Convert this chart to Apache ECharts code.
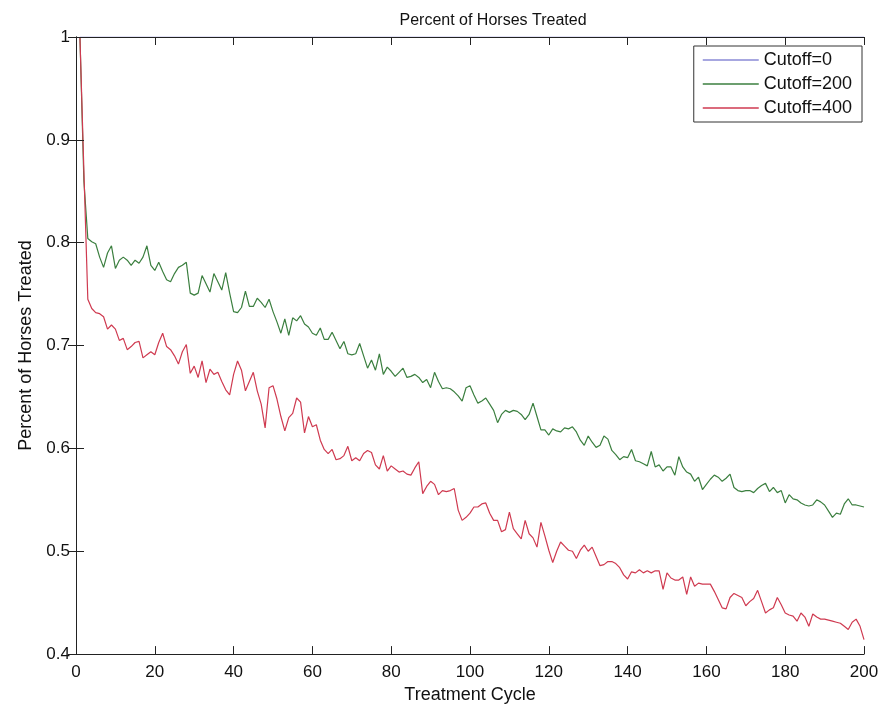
<!DOCTYPE html>
<html>
<head>
<meta charset="utf-8">
<script src="https://cdn.jsdelivr.net/npm/echarts@6/dist/echarts.min.js"></script>
<style>
  html, body { margin: 0; padding: 0; background: #fff; }
  #chart { width: 893px; height: 709px; }
</style>
</head>
<body>
<div id="chart"></div>
<script>
const seriesNames = ['Cutoff=0', 'Cutoff=200', 'Cutoff=400'];
const xTicks = [0, 20, 40, 60, 80, 100, 120, 140, 160, 180, 200];
const yTicks = [0.4, 0.5, 0.6, 0.7, 0.8, 0.9, 1];

const cutoff0 = [
  1,1,1,1,1,1,1,1,1,1,1,1,1,1,1,1,1,1,1,1,
  1,1,1,1,1,1,1,1,1,1,1,1,1,1,1,1,1,1,1,1,
  1,1,1,1,1,1,1,1,1,1,1,1,1,1,1,1,1,1,1,1,
  1,1,1,1,1,1,1,1,1,1,1,1,1,1,1,1,1,1,1,1,
  1,1,1,1,1,1,1,1,1,1,1,1,1,1,1,1,1,1,1,1,
  1,1,1,1,1,1,1,1,1,1,1,1,1,1,1,1,1,1,1,1,
  1,1,1,1,1,1,1,1,1,1,1,1,1,1,1,1,1,1,1,1,
  1,1,1,1,1,1,1,1,1,1,1,1,1,1,1,1,1,1,1,1,
  1,1,1,1,1,1,1,1,1,1,1,1,1,1,1,1,1,1,1,1,
  1,1,1,1,1,1,1,1,1,1,1,1,1,1,1,1,1,1,1,1
];

const cutoff200 = [
  1.000,0.860,0.804,0.801,0.799,0.786,0.776,0.790,0.797,0.775,
  0.783,0.786,0.783,0.778,0.783,0.780,0.786,0.797,0.778,0.773,
  0.781,0.772,0.764,0.762,0.770,0.776,0.778,0.781,0.751,0.749,
  0.751,0.768,0.760,0.752,0.770,0.762,0.754,0.771,0.751,0.733,
  0.732,0.737,0.753,0.738,0.738,0.746,0.742,0.737,0.745,0.733,
  0.723,0.712,0.726,0.710,0.727,0.724,0.729,0.721,0.718,0.712,
  0.710,0.717,0.706,0.706,0.713,0.705,0.697,0.704,0.692,0.691,
  0.692,0.702,0.690,0.678,0.686,0.676,0.692,0.672,0.679,0.675,
  0.670,0.674,0.678,0.669,0.670,0.672,0.669,0.664,0.667,0.659,
  0.674,0.665,0.658,0.659,0.658,0.655,0.651,0.646,0.659,0.661,
  0.652,0.644,0.646,0.649,0.643,0.637,0.625,0.633,0.637,0.635,
  0.637,0.636,0.633,0.628,0.633,0.644,0.631,0.618,0.618,0.613,
  0.619,0.617,0.616,0.620,0.619,0.621,0.616,0.608,0.603,0.612,
  0.606,0.601,0.603,0.612,0.609,0.598,0.594,0.589,0.592,0.591,
  0.599,0.588,0.587,0.585,0.583,0.597,0.582,0.584,0.578,0.582,
  0.582,0.574,0.592,0.582,0.577,0.575,0.568,0.572,0.560,0.565,
  0.570,0.574,0.572,0.568,0.571,0.575,0.562,0.559,0.558,0.559,
  0.559,0.557,0.561,0.564,0.566,0.558,0.562,0.557,0.559,0.547,
  0.555,0.551,0.550,0.547,0.545,0.544,0.545,0.550,0.548,0.545,
  0.539,0.533,0.537,0.536,0.546,0.551,0.545,0.545,0.544,0.543
];

const cutoff400 = [
  1.000,0.870,0.745,0.736,0.732,0.731,0.728,0.716,0.720,0.716,
  0.705,0.707,0.696,0.699,0.703,0.704,0.688,0.691,0.694,0.691,
  0.703,0.712,0.699,0.696,0.690,0.682,0.694,0.701,0.673,0.680,
  0.669,0.685,0.664,0.677,0.672,0.674,0.665,0.657,0.652,0.672,
  0.685,0.676,0.656,0.665,0.674,0.656,0.643,0.620,0.659,0.661,
  0.648,0.631,0.617,0.630,0.634,0.649,0.645,0.615,0.631,0.621,
  0.623,0.608,0.599,0.595,0.599,0.589,0.590,0.593,0.602,0.588,
  0.591,0.588,0.595,0.598,0.596,0.584,0.580,0.593,0.578,0.583,
  0.580,0.577,0.578,0.575,0.574,0.581,0.587,0.556,0.563,0.568,
  0.565,0.555,0.559,0.558,0.559,0.561,0.540,0.530,0.533,0.537,
  0.543,0.543,0.546,0.547,0.537,0.530,0.530,0.519,0.521,0.538,
  0.522,0.517,0.512,0.530,0.517,0.513,0.504,0.528,0.515,0.501,
  0.489,0.500,0.509,0.505,0.501,0.500,0.493,0.501,0.506,0.500,
  0.504,0.495,0.486,0.487,0.490,0.490,0.488,0.484,0.477,0.473,
  0.480,0.479,0.482,0.479,0.481,0.479,0.481,0.481,0.463,0.479,
  0.474,0.472,0.472,0.475,0.458,0.475,0.466,0.469,0.468,0.468,
  0.468,0.461,0.453,0.445,0.444,0.455,0.459,0.457,0.455,0.447,
  0.451,0.454,0.462,0.451,0.440,0.443,0.445,0.455,0.448,0.440,
  0.438,0.437,0.432,0.440,0.436,0.427,0.439,0.436,0.434,0.434,
  0.433,0.432,0.431,0.430,0.427,0.424,0.431,0.434,0.427,0.414
];

// treatment cycles 1..200 (x domain)
const cycles = cutoff200.map((_, i) => i + 1);

const colors = ['#8a8ad6', '#3b7f3f', '#cf3a50'];
const FONT = '"Liberation Sans", Arial, Helvetica, sans-serif';

function pairs(vals) { return vals.map((v, i) => [cycles[i], v]); }

const chart = echarts.init(document.getElementById('chart'), null, { renderer: 'canvas' });

const axisCommon = {
  type: 'value',
  axisLine: { show: true, lineStyle: { color: '#222', width: 1 } },
  axisTick: { show: true, inside: true, length: 8, lineStyle: { color: '#222', width: 1 } },
  splitLine: { show: false }
};

chart.setOption({
  animation: false,
  backgroundColor: '#fff',
  title: {
    text: 'Percent of Horses Treated',
    left: 488,
    textAlign: 'center',
    top: 8,
    textStyle: { fontFamily: FONT, fontSize: 16, fontWeight: 'normal', color: '#111' }
  },
  legend: {
    data: seriesNames,
    orient: 'vertical',
    right: 31,
    top: 46,
    padding: [5, 10, 5, 9],
    icon: 'rect',
    itemWidth: 56,
    itemHeight: 1.4,
    itemGap: 6,
    borderColor: '#333',
    borderWidth: 1,
    backgroundColor: '#fff',
    textStyle: { fontFamily: FONT, fontSize: 18, color: '#111', lineHeight: 18 }
  },
  grid: { left: 76, right: 29, top: 37, bottom: 51, containLabel: false },
  xAxis: [
    Object.assign({}, axisCommon, {
      position: 'bottom',
      min: xTicks[0], max: xTicks[xTicks.length - 1], interval: 20,
      z: 5,
      axisLabel: { show: true, margin: 10, fontFamily: FONT, fontSize: 17, color: '#111' },
      name: 'Treatment Cycle',
      nameLocation: 'middle',
      nameGap: 26,
      nameTextStyle: { fontFamily: FONT, fontSize: 18, color: '#111' }
    }),
    Object.assign({}, axisCommon, {
      position: 'top',
      min: xTicks[0], max: xTicks[xTicks.length - 1], interval: 20,
      z: 5,
      axisLabel: { show: false }
    })
  ],
  yAxis: [
    Object.assign({}, axisCommon, {
      position: 'left',
      min: yTicks[0], max: yTicks[yTicks.length - 1], interval: 0.1,
      z: 5,
      axisLabel: {
        show: true, margin: 6, fontFamily: FONT, fontSize: 17, color: '#111',
        formatter: v => String(Math.round(v * 10) / 10)
      },
      name: 'Percent of Horses Treated',
      nameLocation: 'middle',
      nameRotate: 90,
      nameGap: 39,
      nameTextStyle: { fontFamily: FONT, fontSize: 18, color: '#111' }
    }),
    Object.assign({}, axisCommon, {
      position: 'right',
      min: yTicks[0], max: yTicks[yTicks.length - 1], interval: 0.1,
      z: 5,
      axisLabel: { show: false }
    })
  ],
  series: [
    { name: seriesNames[0], type: 'line', data: pairs(cutoff0), symbol: 'none', z: 1,
      lineStyle: { color: colors[0], width: 1.2 }, itemStyle: { color: colors[0] } },
    { name: seriesNames[1], type: 'line', data: pairs(cutoff200), symbol: 'none', z: 2,
      lineStyle: { color: colors[1], width: 1.2 }, itemStyle: { color: colors[1] } },
    { name: seriesNames[2], type: 'line', data: pairs(cutoff400), symbol: 'none', z: 3,
      lineStyle: { color: colors[2], width: 1.2 }, itemStyle: { color: colors[2] } }
  ]
});
</script>
</body>
</html>
